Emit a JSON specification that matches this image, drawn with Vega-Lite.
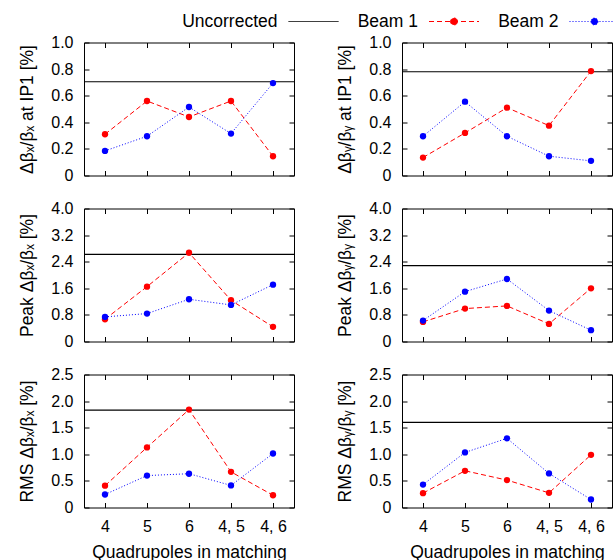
{
  "$schema": "https://vega.github.io/schema/vega-lite/v6.json",
  "background": "white",
  "padding": {"left": 18, "top": 10.5, "right": 0, "bottom": 0},
  "datasets": {
    "main": [
      {"p": "x1", "s": "Beam 1", "q": "4", "v": 0.31},
      {"p": "x1", "s": "Beam 1", "q": "5", "v": 0.56},
      {"p": "x1", "s": "Beam 1", "q": "6", "v": 0.44},
      {"p": "x1", "s": "Beam 1", "q": "4, 5", "v": 0.56},
      {"p": "x1", "s": "Beam 1", "q": "4, 6", "v": 0.145},
      {"p": "x1", "s": "Beam 2", "q": "4", "v": 0.185},
      {"p": "x1", "s": "Beam 2", "q": "5", "v": 0.295},
      {"p": "x1", "s": "Beam 2", "q": "6", "v": 0.515},
      {"p": "x1", "s": "Beam 2", "q": "4, 5", "v": 0.315},
      {"p": "x1", "s": "Beam 2", "q": "4, 6", "v": 0.695},
      {"p": "y1", "s": "Beam 1", "q": "4", "v": 0.135},
      {"p": "y1", "s": "Beam 1", "q": "5", "v": 0.32},
      {"p": "y1", "s": "Beam 1", "q": "6", "v": 0.51},
      {"p": "y1", "s": "Beam 1", "q": "4, 5", "v": 0.375},
      {"p": "y1", "s": "Beam 1", "q": "4, 6", "v": 0.785},
      {"p": "y1", "s": "Beam 2", "q": "4", "v": 0.295},
      {"p": "y1", "s": "Beam 2", "q": "5", "v": 0.555},
      {"p": "y1", "s": "Beam 2", "q": "6", "v": 0.295},
      {"p": "y1", "s": "Beam 2", "q": "4, 5", "v": 0.145},
      {"p": "y1", "s": "Beam 2", "q": "4, 6", "v": 0.11},
      {"p": "x2", "s": "Beam 1", "q": "4", "v": 0.67},
      {"p": "x2", "s": "Beam 1", "q": "5", "v": 1.65},
      {"p": "x2", "s": "Beam 1", "q": "6", "v": 2.67},
      {"p": "x2", "s": "Beam 1", "q": "4, 5", "v": 1.24},
      {"p": "x2", "s": "Beam 1", "q": "4, 6", "v": 0.44},
      {"p": "x2", "s": "Beam 2", "q": "4", "v": 0.74},
      {"p": "x2", "s": "Beam 2", "q": "5", "v": 0.84},
      {"p": "x2", "s": "Beam 2", "q": "6", "v": 1.27},
      {"p": "x2", "s": "Beam 2", "q": "4, 5", "v": 1.1},
      {"p": "x2", "s": "Beam 2", "q": "4, 6", "v": 1.71},
      {"p": "y2", "s": "Beam 1", "q": "4", "v": 0.59},
      {"p": "y2", "s": "Beam 1", "q": "5", "v": 0.99},
      {"p": "y2", "s": "Beam 1", "q": "6", "v": 1.07},
      {"p": "y2", "s": "Beam 1", "q": "4, 5", "v": 0.53},
      {"p": "y2", "s": "Beam 1", "q": "4, 6", "v": 1.6},
      {"p": "y2", "s": "Beam 2", "q": "4", "v": 0.63},
      {"p": "y2", "s": "Beam 2", "q": "5", "v": 1.5},
      {"p": "y2", "s": "Beam 2", "q": "6", "v": 1.88},
      {"p": "y2", "s": "Beam 2", "q": "4, 5", "v": 0.93},
      {"p": "y2", "s": "Beam 2", "q": "4, 6", "v": 0.34},
      {"p": "x3", "s": "Beam 1", "q": "4", "v": 0.41},
      {"p": "x3", "s": "Beam 1", "q": "5", "v": 1.13},
      {"p": "x3", "s": "Beam 1", "q": "6", "v": 1.84},
      {"p": "x3", "s": "Beam 1", "q": "4, 5", "v": 0.67},
      {"p": "x3", "s": "Beam 1", "q": "4, 6", "v": 0.23},
      {"p": "x3", "s": "Beam 2", "q": "4", "v": 0.245},
      {"p": "x3", "s": "Beam 2", "q": "5", "v": 0.6},
      {"p": "x3", "s": "Beam 2", "q": "6", "v": 0.635},
      {"p": "x3", "s": "Beam 2", "q": "4, 5", "v": 0.415},
      {"p": "x3", "s": "Beam 2", "q": "4, 6", "v": 1.015},
      {"p": "y3", "s": "Beam 1", "q": "4", "v": 0.27},
      {"p": "y3", "s": "Beam 1", "q": "5", "v": 0.69},
      {"p": "y3", "s": "Beam 1", "q": "6", "v": 0.515},
      {"p": "y3", "s": "Beam 1", "q": "4, 5", "v": 0.275},
      {"p": "y3", "s": "Beam 1", "q": "4, 6", "v": 0.99},
      {"p": "y3", "s": "Beam 2", "q": "4", "v": 0.43},
      {"p": "y3", "s": "Beam 2", "q": "5", "v": 1.035},
      {"p": "y3", "s": "Beam 2", "q": "6", "v": 1.3},
      {"p": "y3", "s": "Beam 2", "q": "4, 5", "v": 0.64},
      {"p": "y3", "s": "Beam 2", "q": "4, 6", "v": 0.15}
    ],
    "unc": [
      {"p": "x1", "v": 0.705},
      {"p": "y1", "v": 0.78},
      {"p": "x2", "v": 2.62},
      {"p": "y2", "v": 2.28},
      {"p": "x3", "v": 1.83},
      {"p": "y3", "v": 1.6}
    ]
  },
  "columns": 2,
  "spacing": {"row": 33, "column": 108},
  "bounds": "flush",
  "concat": [
    {
      "width": 210, "height": 133,
      "layer": [
        {"data": {"name": "unc"}, "transform": [{"filter": "datum.p === 'x1'"}],
         "mark": {"type": "rule", "color": "black", "strokeWidth": 1.2},
         "encoding": {"y": {"field": "v", "type": "quantitative", "scale": {"domain": [0, 1], "nice": false},
           "axis": {"orient": "left", "values": [0, 0.2, 0.4, 0.6, 0.8, 1], "labelExpr": "datum.value == 0 ? '0' : format(datum.value, '.1f')", "title": "Δβₓ/βₓ at IP1 [%]", "titlePadding": 14}}}},
        {"data": {"name": "main"}, "transform": [{"filter": "datum.p === 'x1'"}],
         "mark": {"type": "line", "strokeWidth": 1},
         "encoding": {
           "x": {"field": "q", "type": "ordinal", "scale": {"type": "point", "domain": ["4", "5", "6", "4, 5", "4, 6"], "padding": 0.5}, "axis": {"orient": "bottom", "labels": false, "title": null}},
           "y": {"field": "v", "type": "quantitative", "scale": {"domain": [0, 1], "nice": false}, "axis": {"orient": "right", "values": [0, 0.2, 0.4, 0.6, 0.8, 1], "labels": false, "title": null}},
           "color": {"field": "s", "type": "nominal", "scale": {"domain": ["Uncorrected", "Beam 1", "Beam 2"], "range": ["#000000", "#ff0000", "#0000ff"]}, "title": null,
             "legend": {"orient": "none", "legendX": 219, "legendY": -31.5, "direction": "horizontal", "labelAlign": "right", "labelOffset": -46.5, "symbolSize": 400, "symbolStrokeWidth": 1, "columnPadding": 16.5, "labelFont": "Liberation Sans", "labelFontSize": 17.5, "labelColor": "black",
               "encode": {"symbols": {"update": {
                 "shape": {"signal": "datum.value === 'Uncorrected' ? 'M-2.5,0H2.5' : 'M-2.5,0H2.5M0.35,0A0.35,0.35,0,1,1,-0.35,0A0.35,0.35,0,1,1,0.35,0'"},
                 "fill": {"signal": "datum.value === 'Uncorrected' ? 'transparent' : scale('color', datum.value)"},
                 "stroke": {"signal": "scale('color', datum.value)"},
                 "strokeDash": {"signal": "datum.value === 'Beam 1' ? [5,3] : datum.value === 'Beam 2' ? [1,2] : [1,0]"},
                 "opacity": {"value": 1}
               }}}}},
           "strokeDash": {"field": "s", "type": "nominal", "scale": {"domain": ["Beam 1", "Beam 2"], "range": [[5, 3], [1, 2]]}, "legend": null},
           "order": {"value": null}}},
        {"data": {"name": "main"}, "transform": [{"filter": "datum.p === 'x1'"}],
         "mark": {"type": "circle", "size": 40, "opacity": 1},
         "encoding": {
           "x": {"field": "q", "type": "ordinal", "scale": {"type": "point", "domain": ["4", "5", "6", "4, 5", "4, 6"], "padding": 0.5}, "axis": {"orient": "top", "labels": false, "title": null}},
           "y": {"field": "v", "type": "quantitative", "scale": {"domain": [0, 1], "nice": false}, "axis": null},
           "color": {"field": "s", "type": "nominal", "scale": {"domain": ["Uncorrected", "Beam 1", "Beam 2"], "range": ["#000000", "#ff0000", "#0000ff"]}, "title": null}}}
      ],
      "resolve": {"axis": {"x": "independent", "y": "independent"}}
    },
    {
      "width": 210, "height": 133,
      "layer": [
        {"data": {"name": "unc"}, "transform": [{"filter": "datum.p === 'y1'"}],
         "mark": {"type": "rule", "color": "black", "strokeWidth": 1.2},
         "encoding": {"y": {"field": "v", "type": "quantitative", "scale": {"domain": [0, 1], "nice": false},
           "axis": {"orient": "left", "values": [0, 0.2, 0.4, 0.6, 0.8, 1], "labelExpr": "datum.value == 0 ? '0' : format(datum.value, '.1f')", "title": "Δβᵧ/βᵧ at IP1 [%]", "titlePadding": 14}}}},
        {"data": {"name": "main"}, "transform": [{"filter": "datum.p === 'y1'"}],
         "mark": {"type": "line", "strokeWidth": 1},
         "encoding": {
           "x": {"field": "q", "type": "ordinal", "scale": {"type": "point", "domain": ["4", "5", "6", "4, 5", "4, 6"], "padding": 0.5}, "axis": {"orient": "bottom", "labels": false, "title": null}},
           "y": {"field": "v", "type": "quantitative", "scale": {"domain": [0, 1], "nice": false}, "axis": {"orient": "right", "values": [0, 0.2, 0.4, 0.6, 0.8, 1], "labels": false, "title": null}},
           "color": {"field": "s", "type": "nominal", "scale": {"domain": ["Uncorrected", "Beam 1", "Beam 2"], "range": ["#000000", "#ff0000", "#0000ff"]}, "title": null},
           "strokeDash": {"field": "s", "type": "nominal", "scale": {"domain": ["Beam 1", "Beam 2"], "range": [[5, 3], [1, 2]]}, "legend": null},
           "order": {"value": null}}},
        {"data": {"name": "main"}, "transform": [{"filter": "datum.p === 'y1'"}],
         "mark": {"type": "circle", "size": 40, "opacity": 1},
         "encoding": {
           "x": {"field": "q", "type": "ordinal", "scale": {"type": "point", "domain": ["4", "5", "6", "4, 5", "4, 6"], "padding": 0.5}, "axis": {"orient": "top", "labels": false, "title": null}},
           "y": {"field": "v", "type": "quantitative", "scale": {"domain": [0, 1], "nice": false}, "axis": null},
           "color": {"field": "s", "type": "nominal", "scale": {"domain": ["Uncorrected", "Beam 1", "Beam 2"], "range": ["#000000", "#ff0000", "#0000ff"]}, "title": null}}}
      ],
      "resolve": {"axis": {"x": "independent", "y": "independent"}}
    },
    {
      "width": 210, "height": 133,
      "layer": [
        {"data": {"name": "unc"}, "transform": [{"filter": "datum.p === 'x2'"}],
         "mark": {"type": "rule", "color": "black", "strokeWidth": 1.2},
         "encoding": {"y": {"field": "v", "type": "quantitative", "scale": {"domain": [0, 4], "nice": false},
           "axis": {"orient": "left", "values": [0, 0.8, 1.6, 2.4, 3.2, 4], "labelExpr": "datum.value == 0 ? '0' : format(datum.value, '.1f')", "title": "Peak Δβₓ/βₓ [%]", "titlePadding": 14}}}},
        {"data": {"name": "main"}, "transform": [{"filter": "datum.p === 'x2'"}],
         "mark": {"type": "line", "strokeWidth": 1},
         "encoding": {
           "x": {"field": "q", "type": "ordinal", "scale": {"type": "point", "domain": ["4", "5", "6", "4, 5", "4, 6"], "padding": 0.5}, "axis": {"orient": "bottom", "labels": false, "title": null}},
           "y": {"field": "v", "type": "quantitative", "scale": {"domain": [0, 4], "nice": false}, "axis": {"orient": "right", "values": [0, 0.8, 1.6, 2.4, 3.2, 4], "labels": false, "title": null}},
           "color": {"field": "s", "type": "nominal", "scale": {"domain": ["Uncorrected", "Beam 1", "Beam 2"], "range": ["#000000", "#ff0000", "#0000ff"]}, "title": null},
           "strokeDash": {"field": "s", "type": "nominal", "scale": {"domain": ["Beam 1", "Beam 2"], "range": [[5, 3], [1, 2]]}, "legend": null},
           "order": {"value": null}}},
        {"data": {"name": "main"}, "transform": [{"filter": "datum.p === 'x2'"}],
         "mark": {"type": "circle", "size": 40, "opacity": 1},
         "encoding": {
           "x": {"field": "q", "type": "ordinal", "scale": {"type": "point", "domain": ["4", "5", "6", "4, 5", "4, 6"], "padding": 0.5}, "axis": {"orient": "top", "labels": false, "title": null}},
           "y": {"field": "v", "type": "quantitative", "scale": {"domain": [0, 4], "nice": false}, "axis": null},
           "color": {"field": "s", "type": "nominal", "scale": {"domain": ["Uncorrected", "Beam 1", "Beam 2"], "range": ["#000000", "#ff0000", "#0000ff"]}, "title": null}}}
      ],
      "resolve": {"axis": {"x": "independent", "y": "independent"}}
    },
    {
      "width": 210, "height": 133,
      "layer": [
        {"data": {"name": "unc"}, "transform": [{"filter": "datum.p === 'y2'"}],
         "mark": {"type": "rule", "color": "black", "strokeWidth": 1.2},
         "encoding": {"y": {"field": "v", "type": "quantitative", "scale": {"domain": [0, 4], "nice": false},
           "axis": {"orient": "left", "values": [0, 0.8, 1.6, 2.4, 3.2, 4], "labelExpr": "datum.value == 0 ? '0' : format(datum.value, '.1f')", "title": "Peak Δβᵧ/βᵧ [%]", "titlePadding": 14}}}},
        {"data": {"name": "main"}, "transform": [{"filter": "datum.p === 'y2'"}],
         "mark": {"type": "line", "strokeWidth": 1},
         "encoding": {
           "x": {"field": "q", "type": "ordinal", "scale": {"type": "point", "domain": ["4", "5", "6", "4, 5", "4, 6"], "padding": 0.5}, "axis": {"orient": "bottom", "labels": false, "title": null}},
           "y": {"field": "v", "type": "quantitative", "scale": {"domain": [0, 4], "nice": false}, "axis": {"orient": "right", "values": [0, 0.8, 1.6, 2.4, 3.2, 4], "labels": false, "title": null}},
           "color": {"field": "s", "type": "nominal", "scale": {"domain": ["Uncorrected", "Beam 1", "Beam 2"], "range": ["#000000", "#ff0000", "#0000ff"]}, "title": null},
           "strokeDash": {"field": "s", "type": "nominal", "scale": {"domain": ["Beam 1", "Beam 2"], "range": [[5, 3], [1, 2]]}, "legend": null},
           "order": {"value": null}}},
        {"data": {"name": "main"}, "transform": [{"filter": "datum.p === 'y2'"}],
         "mark": {"type": "circle", "size": 40, "opacity": 1},
         "encoding": {
           "x": {"field": "q", "type": "ordinal", "scale": {"type": "point", "domain": ["4", "5", "6", "4, 5", "4, 6"], "padding": 0.5}, "axis": {"orient": "top", "labels": false, "title": null}},
           "y": {"field": "v", "type": "quantitative", "scale": {"domain": [0, 4], "nice": false}, "axis": null},
           "color": {"field": "s", "type": "nominal", "scale": {"domain": ["Uncorrected", "Beam 1", "Beam 2"], "range": ["#000000", "#ff0000", "#0000ff"]}, "title": null}}}
      ],
      "resolve": {"axis": {"x": "independent", "y": "independent"}}
    },
    {
      "width": 210, "height": 133,
      "layer": [
        {"data": {"name": "unc"}, "transform": [{"filter": "datum.p === 'x3'"}],
         "mark": {"type": "rule", "color": "black", "strokeWidth": 1.2},
         "encoding": {"y": {"field": "v", "type": "quantitative", "scale": {"domain": [0, 2.5], "nice": false},
           "axis": {"orient": "left", "values": [0, 0.5, 1, 1.5, 2, 2.5], "labelExpr": "datum.value == 0 ? '0' : format(datum.value, '.1f')", "title": "RMS Δβₓ/βₓ [%]", "titlePadding": 14}}}},
        {"data": {"name": "main"}, "transform": [{"filter": "datum.p === 'x3'"}],
         "mark": {"type": "line", "strokeWidth": 1},
         "encoding": {
           "x": {"field": "q", "type": "ordinal", "scale": {"type": "point", "domain": ["4", "5", "6", "4, 5", "4, 6"], "padding": 0.5}, "axis": {"orient": "bottom", "labelAngle": 0, "title": "Quadrupoles in matching", "titlePadding": 9}},
           "y": {"field": "v", "type": "quantitative", "scale": {"domain": [0, 2.5], "nice": false}, "axis": {"orient": "right", "values": [0, 0.5, 1, 1.5, 2, 2.5], "labels": false, "title": null}},
           "color": {"field": "s", "type": "nominal", "scale": {"domain": ["Uncorrected", "Beam 1", "Beam 2"], "range": ["#000000", "#ff0000", "#0000ff"]}, "title": null},
           "strokeDash": {"field": "s", "type": "nominal", "scale": {"domain": ["Beam 1", "Beam 2"], "range": [[5, 3], [1, 2]]}, "legend": null},
           "order": {"value": null}}},
        {"data": {"name": "main"}, "transform": [{"filter": "datum.p === 'x3'"}],
         "mark": {"type": "circle", "size": 40, "opacity": 1},
         "encoding": {
           "x": {"field": "q", "type": "ordinal", "scale": {"type": "point", "domain": ["4", "5", "6", "4, 5", "4, 6"], "padding": 0.5}, "axis": {"orient": "top", "labels": false, "title": null}},
           "y": {"field": "v", "type": "quantitative", "scale": {"domain": [0, 2.5], "nice": false}, "axis": null},
           "color": {"field": "s", "type": "nominal", "scale": {"domain": ["Uncorrected", "Beam 1", "Beam 2"], "range": ["#000000", "#ff0000", "#0000ff"]}, "title": null}}}
      ],
      "resolve": {"axis": {"x": "independent", "y": "independent"}}
    },
    {
      "width": 210, "height": 133,
      "layer": [
        {"data": {"name": "unc"}, "transform": [{"filter": "datum.p === 'y3'"}],
         "mark": {"type": "rule", "color": "black", "strokeWidth": 1.2},
         "encoding": {"y": {"field": "v", "type": "quantitative", "scale": {"domain": [0, 2.5], "nice": false},
           "axis": {"orient": "left", "values": [0, 0.5, 1, 1.5, 2, 2.5], "labelExpr": "datum.value == 0 ? '0' : format(datum.value, '.1f')", "title": "RMS Δβᵧ/βᵧ [%]", "titlePadding": 14}}}},
        {"data": {"name": "main"}, "transform": [{"filter": "datum.p === 'y3'"}],
         "mark": {"type": "line", "strokeWidth": 1},
         "encoding": {
           "x": {"field": "q", "type": "ordinal", "scale": {"type": "point", "domain": ["4", "5", "6", "4, 5", "4, 6"], "padding": 0.5}, "axis": {"orient": "bottom", "labelAngle": 0, "title": "Quadrupoles in matching", "titlePadding": 9}},
           "y": {"field": "v", "type": "quantitative", "scale": {"domain": [0, 2.5], "nice": false}, "axis": {"orient": "right", "values": [0, 0.5, 1, 1.5, 2, 2.5], "labels": false, "title": null}},
           "color": {"field": "s", "type": "nominal", "scale": {"domain": ["Uncorrected", "Beam 1", "Beam 2"], "range": ["#000000", "#ff0000", "#0000ff"]}, "title": null},
           "strokeDash": {"field": "s", "type": "nominal", "scale": {"domain": ["Beam 1", "Beam 2"], "range": [[5, 3], [1, 2]]}, "legend": null},
           "order": {"value": null}}},
        {"data": {"name": "main"}, "transform": [{"filter": "datum.p === 'y3'"}],
         "mark": {"type": "circle", "size": 40, "opacity": 1},
         "encoding": {
           "x": {"field": "q", "type": "ordinal", "scale": {"type": "point", "domain": ["4", "5", "6", "4, 5", "4, 6"], "padding": 0.5}, "axis": {"orient": "top", "labels": false, "title": null}},
           "y": {"field": "v", "type": "quantitative", "scale": {"domain": [0, 2.5], "nice": false}, "axis": null},
           "color": {"field": "s", "type": "nominal", "scale": {"domain": ["Uncorrected", "Beam 1", "Beam 2"], "range": ["#000000", "#ff0000", "#0000ff"]}, "title": null}}}
      ],
      "resolve": {"axis": {"x": "independent", "y": "independent"}}
    }
  ],
  "config": {
    "view": {"stroke": "black", "strokeWidth": 1},
    "axis": {"domain": false, "grid": false, "tickColor": "black", "tickSize": -5, "tickWidth": 1, "labelFont": "Liberation Sans", "labelFontSize": 16, "labelColor": "black", "titleFont": "Liberation Sans", "titleFontSize": 17.5, "titleFontWeight": "normal", "titleColor": "black", "labelPadding": 16}
  }
}
